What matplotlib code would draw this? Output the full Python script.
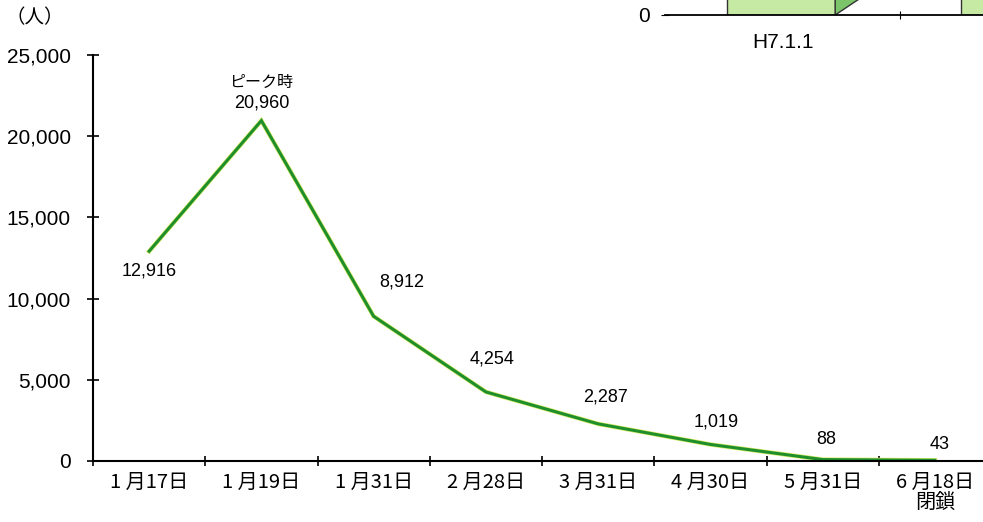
import matplotlib
matplotlib.use('Agg')
import matplotlib.pyplot as plt
from matplotlib.patches import Polygon

plt.rcParams['font.family'] = ['Noto Sans CJK JP', 'DejaVu Sans']
NUM_FONT = ['Liberation Sans', 'DejaVu Sans']

# evacuee counts
categories = ['1 月17日', '1 月19日', '1 月31日', '2 月28日', '3 月31日', '4 月30日', '5 月31日', '6 月18日\n閉鎖']
values = [12916, 20960, 8912, 4254, 2287, 1019, 88, 43]
labels = ['12,916', '20,960', '8,912', '4,254', '2,287', '1,019', '88', '43']
# label offsets in pixels (dx, dy) relative to each point
label_offsets = [(0, -20), (0, 18), (28, 34), (6, 33), (7, 27), (6, 22), (4, 20), (5, 16)]

# cropped fragment of the neighbouring chart (top right)
inset_categories = ['H7.1.1', '']
inset_values = [1.0, 1.0]

W, H = 983, 522
fig = plt.figure(figsize=(W / 100, H / 100), dpi=100)

x0, x1 = 93, 991
y0, y1 = 461, 55
ax = fig.add_axes([x0 / W, 1 - y0 / H, (x1 - x0) / W, (y0 - y1) / H])
xs = list(range(len(values)))
ax.plot(xs, values, color='#d9ec6a', lw=3.2, solid_joinstyle='miter')
ax.plot(xs, values, color='#1f8f2c', lw=2.2, solid_joinstyle='miter')

ax.set_xlim(-0.5, len(values) - 0.5)
ax.set_ylim(0, 25000)
yt = [0, 5000, 10000, 15000, 20000, 25000]
ax.set_yticks(yt)
ax.set_yticklabels(['{:,}'.format(v) for v in yt], fontsize=15, family=NUM_FONT)
ax.set_xticks(xs)
ax.set_xticklabels(categories, fontsize=14.5, linespacing=0.95)
ax.set_xticks([i - 0.5 for i in range(len(values))], minor=True)
ax.tick_params(axis='x', which='major', length=0, pad=8)
ax.tick_params(axis='x', which='minor', direction='inout', length=7, width=1.2)
ax.tick_params(axis='y', direction='inout', length=8, width=1.2, pad=12)
for s in ['top', 'right']:
    ax.spines[s].set_visible(False)
ax.spines['left'].set_linewidth(1.5)
ax.spines['bottom'].set_linewidth(1.5)

for i, (v, t) in enumerate(zip(values, labels)):
    dx, dy = label_offsets[i]
    ax.annotate(t, (i, v), xytext=(dx, dy), textcoords='offset pixels',
                ha='center', va='center', fontsize=13, family=NUM_FONT)
ax.annotate('ピーク時', (1, values[1]), xytext=(0, 38), textcoords='offset pixels',
            ha='center', va='center', fontsize=11.5)

fig.text(35 / W, 1 - 18 / H, '（人）', ha='center', va='center', fontsize=14)

# fragment of the other chart
ix0, ix1 = 665, 1125
iy0 = 15
ax2 = fig.add_axes([ix0 / W, 1 - iy0 / H, (ix1 - ix0) / W, 40 / H])
ax2.set_xlim(0, 2)
ax2.set_ylim(0, 0.4)
bx = [0.505, 1.52]
ax2.bar(bx, inset_values, width=0.47, color='#c6e9a4', edgecolor='#333333', lw=1.0)
ax2.add_patch(Polygon([[0.74, 0], [1.0, 0.4], [0.74, 0.4]], closed=True,
                      facecolor='#7cc46a', edgecolor='#333333', lw=1.0))
ax2.set_yticks([0])
ax2.set_yticklabels(['0'], fontsize=15, family=NUM_FONT)
ax2.set_xticks([1.02])
ax2.set_xticklabels([''])
ax2.tick_params(axis='x', direction='inout', length=6)
ax2.tick_params(axis='y', direction='inout', length=6, pad=8)
for s in ['top', 'right', 'left']:
    ax2.spines[s].set_visible(False)
ax2.spines['bottom'].set_linewidth(1.3)
fig.text(783 / W, 1 - 43 / H, inset_categories[0], ha='center', va='center', fontsize=15,
         family=NUM_FONT)

fig.savefig('out.png', dpi=100)
